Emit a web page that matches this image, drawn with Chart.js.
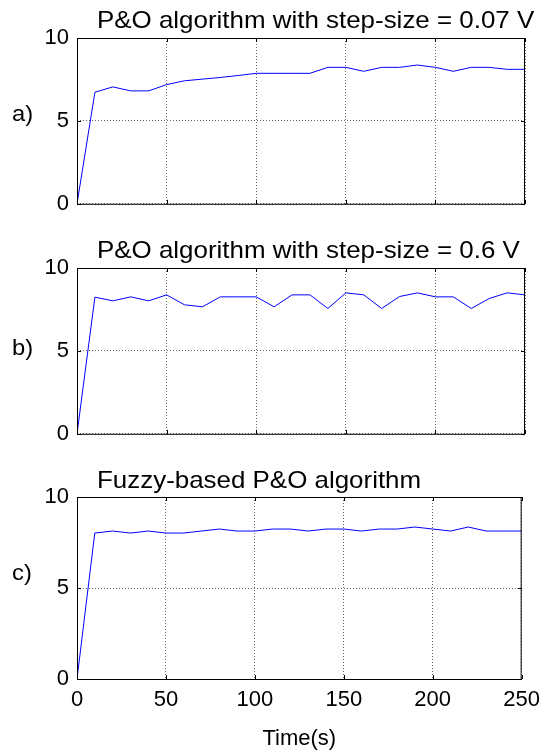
<!DOCTYPE html>
<html>
<head>
<meta charset="utf-8">
<script src="https://cdn.jsdelivr.net/npm/chart.js@4.4.0/dist/chart.umd.min.js"></script>
<style>
  html, body { margin: 0; padding: 0; background: #fff; }
  #wrap { position: relative; width: 548px; height: 752px; }
  canvas { position: absolute; left: 0; }
</style>
</head>
<body>
<div id="wrap">
  <canvas id="c1" width="548" height="225" style="top:0"></canvas>
  <canvas id="c2" width="548" height="230" style="top:225px"></canvas>
  <canvas id="c3" width="548" height="297" style="top:455px"></canvas>
</div>
<script>
// time axis, one sample every 10 s
const timeS = [0, 10, 20, 30, 40, 50, 60, 70, 80, 90, 100, 110, 120, 130, 140, 150, 160, 170, 180, 190, 200, 210, 220, 230, 240, 250];

const powerStep007 = [0, 6.73, 7.05, 6.81, 6.81, 7.19, 7.42, 7.52, 7.62, 7.74, 7.87, 7.87, 7.87, 7.87, 8.23, 8.23, 7.99, 8.23, 8.23, 8.37, 8.23, 7.99, 8.23, 8.23, 8.11, 8.11];
const powerStep06 = [0, 8.24, 8.02, 8.26, 8.02, 8.38, 7.78, 7.66, 8.26, 8.26, 8.26, 7.66, 8.38, 8.38, 7.56, 8.5, 8.38, 7.56, 8.28, 8.5, 8.26, 8.26, 7.56, 8.16, 8.5, 8.38];
const powerFuzzy = [0, 8.02, 8.13, 8.02, 8.13, 8.02, 8.02, 8.13, 8.24, 8.13, 8.13, 8.24, 8.24, 8.13, 8.24, 8.24, 8.13, 8.24, 8.24, 8.35, 8.24, 8.13, 8.35, 8.13, 8.13, 8.13];

const titles = ['P&O algorithm with step-size = 0.07 V', 'P&O algorithm with step-size = 0.6 V', 'Fuzzy-based P&O algorithm'];
const tags = ['a)', 'b)', 'c)'];
const xLabel = 'Time(s)';

const FONT = 'Arial, "Liberation Sans", sans-serif';

function stretchedText(ctx, text, x, y, sx) {
  ctx.save();
  ctx.translate(x, y);
  ctx.scale(sx, 1);
  ctx.fillText(text, 0, 0);
  ctx.restore();
}

// matlab-ish box: full frame, inward ticks, title and panel tag
const matlabBox = {
  id: 'matlabBox',
  afterDraw(chart, args, opts) {
    const { ctx, chartArea: a, scales } = chart;
    const tl = 4;
    ctx.save();
    ctx.strokeStyle = '#000';
    ctx.lineWidth = 1;
    ctx.setLineDash([]);
    ctx.strokeRect(a.left + 0.5, a.top + 0.5, a.right - a.left - 1, a.bottom - a.top);
    ctx.beginPath();
    scales.x.ticks.forEach(t => {
      const px = Math.round(scales.x.getPixelForValue(t.value)) + 0.5;
      ctx.moveTo(px, a.bottom); ctx.lineTo(px, a.bottom - tl);
      ctx.moveTo(px, a.top); ctx.lineTo(px, a.top + tl);
    });
    scales.y.ticks.forEach(t => {
      const py = Math.round(scales.y.getPixelForValue(t.value)) + 0.5;
      ctx.moveTo(a.left, py); ctx.lineTo(a.left + tl, py);
      ctx.moveTo(a.right, py); ctx.lineTo(a.right - tl, py);
    });
    ctx.stroke();

    ctx.fillStyle = '#000';
    ctx.textBaseline = 'alphabetic';
    ctx.textAlign = 'left';
    ctx.font = '24px ' + FONT;
    stretchedText(ctx, opts.title, opts.titleX, opts.titleY, 1.08);
    ctx.font = '22px ' + FONT;
    stretchedText(ctx, opts.tag, 12, opts.tagY, 1.08);
    ctx.restore();
  }
};

function makeChart(id, values, idx, pad, titleY, tagY, showX) {
  const ctx = document.getElementById(id).getContext('2d');
  return new Chart(ctx, {
    type: 'line',
    data: {
      datasets: [{
        data: timeS.map((t, i) => ({ x: t, y: values[i] })),
        borderColor: '#0000ff',
        borderWidth: 1,
        pointRadius: 0,
        tension: 0,
        fill: false,
      }],
    },
    options: {
      responsive: false,
      animation: false,
      layout: { padding: pad },
      plugins: {
        legend: { display: false },
        tooltip: { enabled: false },
        matlabBox: { title: titles[idx], tag: tags[idx], titleX: 97, titleY: titleY, tagY: tagY },
      },
      scales: {
        x: {
          type: 'linear',
          min: 0,
          max: 250,
          ticks: {
            display: showX,
            stepSize: 50,
            color: '#000',
            font: { family: FONT, size: 22 },
            padding: 8,
            maxRotation: 0,
          },
          grid: { color: 'rgba(0,0,0,0.6)', lineWidth: 1, drawTicks: false },
          border: { display: false, dash: [1, 2] },
          title: {
            display: showX,
            text: xLabel,
            color: '#000',
            font: { family: FONT, size: 22 },
            padding: { top: 0, bottom: 0 },
          },
          afterFit: s => { s.height = showX ? 73 : 0; },
        },
        y: {
          min: 0,
          max: 10,
          ticks: {
            stepSize: 5,
            color: '#000',
            font: { family: FONT, size: 22 },
            padding: 8,
          },
          grid: { color: 'rgba(0,0,0,0.6)', lineWidth: 1, drawTicks: false },
          border: { display: false, dash: [1, 2] },
          afterFit: s => { s.width = 77; },
        },
      },
    },
    plugins: [matlabBox],
  });
}

makeChart('c1', powerStep007, 0, { top: 38, bottom: 17, left: 0, right: 23 }, 28, 121, false);
makeChart('c2', powerStep06, 1, { top: 43, bottom: 20, left: 0, right: 23 }, 33, 130, false);
makeChart('c3', powerFuzzy, 2, { top: 42, bottom: 0, left: 0, right: 23 }, 33, 125, true);
</script>
</body>
</html>
